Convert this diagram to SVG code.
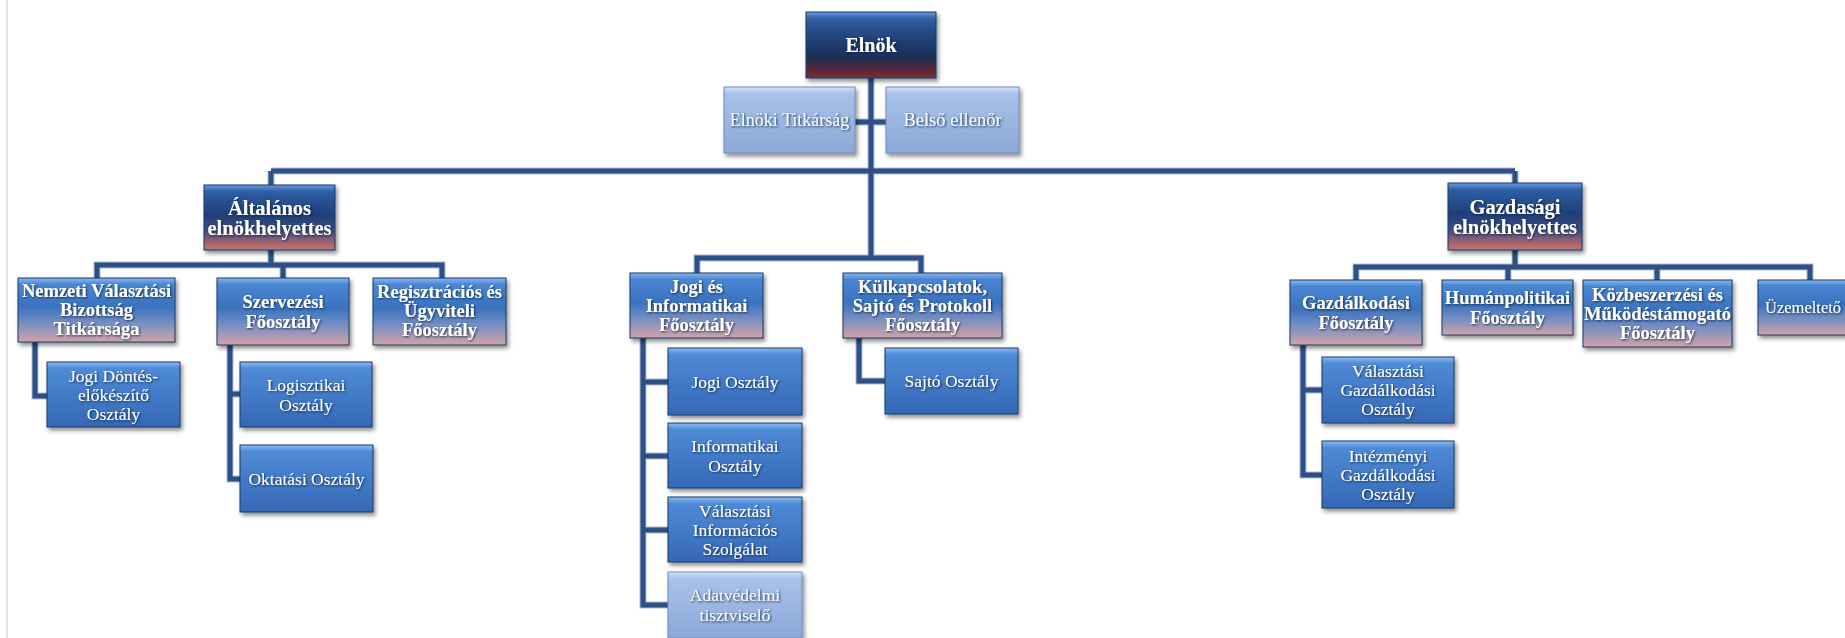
<svg xmlns="http://www.w3.org/2000/svg" width="1845" height="638" viewBox="0 0 1845 638">
<defs>
<linearGradient id="g0" x1="0" y1="0" x2="0" y2="1">
<stop offset="0" stop-color="#6a9be0"/><stop offset="0.1" stop-color="#2f5fa3"/><stop offset="0.45" stop-color="#1f3d72"/><stop offset="0.68" stop-color="#1c2f57"/><stop offset="0.88" stop-color="#5b2637"/><stop offset="1" stop-color="#7a3035"/>
</linearGradient>
<linearGradient id="g1" x1="0" y1="0" x2="0" y2="1">
<stop offset="0" stop-color="#6a9be0"/><stop offset="0.1" stop-color="#2e5ea5"/><stop offset="0.45" stop-color="#1e3f78"/><stop offset="0.7" stop-color="#3e4c80"/><stop offset="0.9" stop-color="#a8656e"/><stop offset="1" stop-color="#c27770"/>
</linearGradient>
<linearGradient id="g2" x1="0" y1="0" x2="0" y2="1">
<stop offset="0" stop-color="#86b8f4"/><stop offset="0.1" stop-color="#4a86d2"/><stop offset="0.45" stop-color="#3a72be"/><stop offset="0.72" stop-color="#7a90c2"/><stop offset="1" stop-color="#d4a2a6"/>
</linearGradient>
<linearGradient id="g3" x1="0" y1="0" x2="0" y2="1">
<stop offset="0" stop-color="#8cbcf4"/><stop offset="0.1" stop-color="#4f8ad6"/><stop offset="1" stop-color="#3468b6"/>
</linearGradient>
<linearGradient id="g4" x1="0" y1="0" x2="0" y2="1">
<stop offset="0" stop-color="#d2e2f8"/><stop offset="0.1" stop-color="#a8c2e8"/><stop offset="1" stop-color="#8ba8d8"/>
</linearGradient>
<filter id="bs" x="-10%" y="-10%" width="130%" height="140%">
<feDropShadow dx="2" dy="3" stdDeviation="2" flood-color="#000" flood-opacity="0.45"/>
</filter>
<filter id="ts" x="-10%" y="-30%" width="120%" height="160%">
<feDropShadow dx="1" dy="1" stdDeviation="0.8" flood-color="#0a1a3a" flood-opacity="0.85"/>
</filter>
<style>
.box{filter:url(#bs);stroke:#1d3a66;stroke-width:1}
.b0{fill:url(#g0)}
.b1{fill:url(#g1)}
.b2{fill:url(#g2)}
.b3{fill:url(#g3)}
.b4{fill:url(#g4);stroke:#6f8cbc}
text{font-family:"Liberation Serif","Times New Roman",serif;fill:#fff;text-anchor:middle;filter:url(#ts)}
.t0{font-size:20px;font-weight:bold}
.t1{font-size:20.5px;font-weight:bold}
.t2{font-size:18.5px;font-weight:bold}
.t3{font-size:17.5px}
.t4{font-size:18px;fill:#f4f8ff}
.con path{fill:none;stroke:#2e5085;stroke-width:5}
.con .halo{stroke:#a9bedb;stroke-width:7}
</style>
</defs>
<rect width="1845" height="638" fill="#fff"/>
<line x1="7" y1="0" x2="7" y2="638" stroke="#e2e2e2" stroke-width="2"/>

<g class="con" id="connectors">
<path class="halo" d="M871 78V258M855 122H886M271 171H1515M271 171V185M1515 171V183M697 273V258H921V273M271 250V265M97 278V265H442V278M283 265V278M1515 250V267M1356 280V267H1810V280M1508 267V280M1657 267V280M35 342V396H47M230 345V479H240M230 394H240M643 338V605H668M643 382H668M643 456H668M643 530H668M859 338V381H885M1303 345V475H1322M1303 390H1322"/>
<path d="M871 78V258M855 122H886M271 171H1515M271 171V185M1515 171V183M697 273V258H921V273M271 250V265M97 278V265H442V278M283 265V278M1515 250V267M1356 280V267H1810V280M1508 267V280M1657 267V280M35 342V396H47M230 345V479H240M230 394H240M643 338V605H668M643 382H668M643 456H668M643 530H668M859 338V381H885M1303 345V475H1322M1303 390H1322"/>
</g>

<g id="elnok"><rect class="box b0" x="806" y="12" width="130" height="66"/><text class="t0" x="871" y="52">Elnök</text></g>
<g id="elnoki-titkarsag"><rect class="box b4" x="724" y="87" width="131" height="66"/><text class="t4" x="789.5" y="126">Elnöki Titkárság</text></g>
<g id="belso-ellenor"><rect class="box b4" x="886" y="87" width="133" height="66"/><text class="t4" x="952.5" y="126" style="font-size:18.5px">Belső ellenőr</text></g>

<g id="altalanos"><rect class="box b1" x="204" y="185" width="131" height="65"/><text class="t1"><tspan x="269.5" y="215">Általános</tspan><tspan x="269.5" y="235">elnökhelyettes</tspan></text></g>
<g id="gazdasagi"><rect class="box b1" x="1448" y="183" width="134" height="67"/><text class="t1"><tspan x="1515" y="214">Gazdasági</tspan><tspan x="1515" y="234">elnökhelyettes</tspan></text></g>

<g id="nvb"><rect class="box b2" x="18" y="278" width="157" height="64"/><text class="t2"><tspan x="96.5" y="297">Nemzeti Választási</tspan><tspan x="96.5" y="316">Bizottság</tspan><tspan x="96.5" y="335">Titkársága</tspan></text></g>
<g id="szervezesi"><rect class="box b2" x="217" y="278" width="132" height="67"/><text class="t2"><tspan x="283" y="307.5">Szervezési</tspan><tspan x="283" y="327.5">Főosztály</tspan></text></g>
<g id="regisztracios"><rect class="box b2" x="373" y="278" width="133" height="67"/><text class="t2"><tspan x="439.5" y="298">Regisztrációs és</tspan><tspan x="439.5" y="317">Ügyviteli</tspan><tspan x="439.5" y="336">Főosztály</tspan></text></g>

<g id="jogi-dontes"><rect class="box b3" x="47" y="362" width="133" height="65"/><text class="t3"><tspan x="113.5" y="381.5">Jogi Döntés-</tspan><tspan x="113.5" y="400.5">előkészítő</tspan><tspan x="113.5" y="419.5">Osztály</tspan></text></g>
<g id="logisztikai"><rect class="box b3" x="240" y="362" width="132" height="65"/><text class="t3"><tspan x="306" y="390.5">Logisztikai</tspan><tspan x="306" y="410.5">Osztály</tspan></text></g>
<g id="oktatasi"><rect class="box b3" x="240" y="445" width="133" height="67"/><text class="t3" x="306.5" y="484.5">Oktatási Osztály</text></g>

<g id="jogi-informatikai"><rect class="box b2" x="630" y="273" width="133" height="65"/><text class="t2"><tspan x="696.5" y="292.5">Jogi és</tspan><tspan x="696.5" y="311.5">Informatikai</tspan><tspan x="696.5" y="330.5">Főosztály</tspan></text></g>
<g id="kulkapcsolatok"><rect class="box b2" x="843" y="273" width="159" height="65"/><text class="t2"><tspan x="922.5" y="292.5">Külkapcsolatok,</tspan><tspan x="922.5" y="311.5">Sajtó és Protokoll</tspan><tspan x="922.5" y="330.5">Főosztály</tspan></text></g>

<g id="jogi-osztaly"><rect class="box b3" x="668" y="348" width="134" height="67"/><text class="t3" x="735" y="387.5">Jogi Osztály</text></g>
<g id="informatikai-osztaly"><rect class="box b3" x="668" y="423" width="134" height="65"/><text class="t3"><tspan x="735" y="451.5">Informatikai</tspan><tspan x="735" y="471.5">Osztály</tspan></text></g>
<g id="vis"><rect class="box b3" x="668" y="497" width="134" height="65"/><text class="t3"><tspan x="735" y="516.5">Választási</tspan><tspan x="735" y="535.5">Információs</tspan><tspan x="735" y="554.5">Szolgálat</tspan></text></g>
<g id="adatvedelmi"><rect class="box b4" x="668" y="572" width="134" height="66"/><text class="t4" style="font-size:17.5px"><tspan x="735" y="601">Adatvédelmi</tspan><tspan x="735" y="621">tisztviselő</tspan></text></g>
<g id="sajto"><rect class="box b3" x="885" y="348" width="133" height="66"/><text class="t3" x="951.5" y="387">Sajtó Osztály</text></g>

<g id="gazdalkodasi"><rect class="box b2" x="1290" y="280" width="132" height="65"/><text class="t2"><tspan x="1356" y="308.5">Gazdálkodási</tspan><tspan x="1356" y="328.5">Főosztály</tspan></text></g>
<g id="humanpolitikai"><rect class="box b2" x="1442" y="280" width="131" height="55"/><text class="t2"><tspan x="1507.5" y="303.5">Humánpolitikai</tspan><tspan x="1507.5" y="323.5">Főosztály</tspan></text></g>
<g id="kozbeszerzesi"><rect class="box b2" x="1583" y="280" width="149" height="67"/><text class="t2"><tspan x="1657.5" y="300.5">Közbeszerzési és</tspan><tspan x="1657.5" y="319.5">Működéstámogató</tspan><tspan x="1657.5" y="338.5">Főosztály</tspan></text></g>
<g id="uzemelteto"><rect class="box b2" x="1758" y="280" width="106" height="55"/><text class="t3" style="font-size:16.5px;text-anchor:start" x="1765" y="313">Üzemeltető</text></g>

<g id="valasztasi-gazd"><rect class="box b3" x="1322" y="357" width="132" height="66"/><text class="t3"><tspan x="1388" y="377">Választási</tspan><tspan x="1388" y="396">Gazdálkodási</tspan><tspan x="1388" y="415">Osztály</tspan></text></g>
<g id="intezmenyi-gazd"><rect class="box b3" x="1322" y="441" width="132" height="67"/><text class="t3"><tspan x="1388" y="461.5">Intézményi</tspan><tspan x="1388" y="480.5">Gazdálkodási</tspan><tspan x="1388" y="499.5">Osztály</tspan></text></g>
</svg>
